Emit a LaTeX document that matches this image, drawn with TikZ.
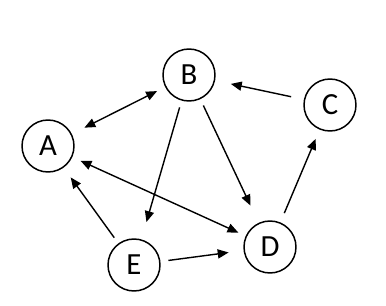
\documentclass[tikz,border=0pt]{standalone}
\usepackage{fontspec}
\setmainfont{Carlito}
\usetikzlibrary{arrows.meta}
\tikzset{
  vert/.style={draw,circle,line width=0.85pt,minimum size=1.04cm,inner sep=0pt,font=\fontsize{17.5}{19}\selectfont},
  ar/.style={-{Triangle[length=6.2pt,width=5.2pt]},line width=0.8pt},
  dar/.style={{Triangle[length=6.2pt,width=5.2pt]}-{Triangle[length=6.2pt,width=5.2pt]},line width=0.8pt}
}
\begin{document}
\begin{tikzpicture}[x=0.02cm,y=-0.02cm]
\useasboundingbox (0,0) rectangle (386,305);
% vertices
\node[vert] (A) at (48,146) {A};
\node[vert] (B) at (189,75) {B};
\node[vert] (C) at (330,105) {C};
\node[vert] (D) at (270,247) {D};
\node[vert] (E) at (134,265) {E};
% edges
\draw[dar,shorten <=0.28cm,shorten >=0.18cm] (A) -- (B);
\draw[ar,shorten <=0.26cm,shorten >=0.32cm] (C) -- (B);
\draw[ar,shorten <=0.14cm,shorten >=0.38cm] (B) -- (D);
\draw[ar,shorten <=0.14cm,shorten >=0.36cm] (B) -- (E);
\draw[dar,shorten <=0.18cm,shorten >=0.16cm] (A) -- (D);
\draw[ar,shorten <=0.14cm,shorten >=0.24cm] (E) -- (A);
\draw[ar,shorten <=0.16cm,shorten >=0.3cm] (E) -- (D);
\draw[ar,shorten <=0.2cm,shorten >=0.2cm] (D) -- (C);
\end{tikzpicture}
\end{document}
